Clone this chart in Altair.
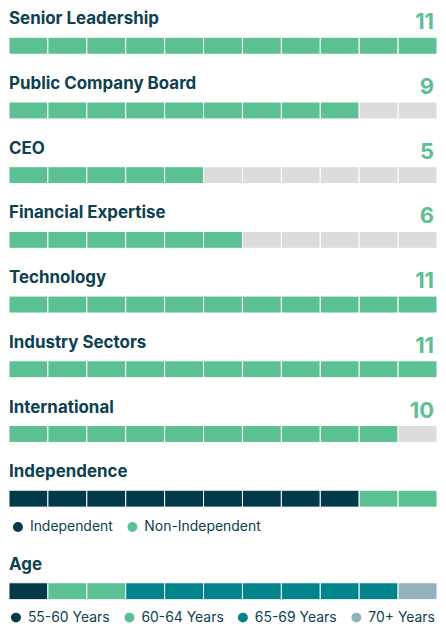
import altair as alt
import pandas as pd

board_size = 11

skills = [
    "Senior Leadership",
    "Public Company Board",
    "CEO",
    "Financial Expertise",
    "Technology",
    "Industry Sectors",
    "International",
]
skill_counts = [11, 9, 5, 6, 11, 11, 10]

independence_groups = ["Independent", "Non-Independent"]
independence_counts = [9, 2]

age_groups = ["55-60 Years", "60-64 Years", "65-69 Years", "70+ Years"]
age_counts = [1, 2, 7, 1]

GREEN = "#5bc092"
GREY = "#dcdcde"
NAVY = "#023a4a"
TEAL = "#00848b"
SLATE = "#93b3bc"
TEXT = "#0e4150"

W = 430
BAR_H = 17


def segments(groups, counts):
    rows = []
    i = 0
    for g, c in zip(groups, counts):
        for _ in range(c):
            rows.append({"start": i, "end": i + 1, "group": g})
            i += 1
    return pd.DataFrame(rows)


x_scale = alt.Scale(domain=[0, board_size], nice=False, zero=False)


def panel(label, groups, counts, colors, number=None, legend=None):
    bars = (
        alt.Chart(segments(groups, counts))
        .mark_rect(stroke="white", strokeWidth=1)
        .encode(
            x=alt.X("start:Q", scale=x_scale, axis=None),
            x2="end:Q",
            color=alt.Color(
                "group:N",
                scale=alt.Scale(domain=groups, range=colors),
                sort=groups,
                legend=legend,
            ),
        )
    )
    title = (
        alt.Chart(pd.DataFrame({"label": [label]}))
        .mark_text(align="left", baseline="alphabetic", font="Inter",
                   fontSize=17, fontWeight="bold", color=TEXT)
        .encode(x=alt.value(0), y=alt.value(-13), text="label:N")
    )
    layers = [bars, title]
    if number is not None:
        num = (
            alt.Chart(pd.DataFrame({"n": [board_size], "v": [number]}))
            .mark_text(align="right", baseline="alphabetic", dx=-3,
                       font="Inter", fontSize=22,
                       fontWeight="bold", color=GREEN)
            .encode(x=alt.X("n:Q", scale=x_scale, axis=None),
                    y=alt.value(-8), text="v:N")
        )
        layers.append(num)
    return alt.layer(*layers).properties(width=W, height=BAR_H)


def legend_for(pad=0):
    return alt.Legend(
        orient="bottom", direction="horizontal", title=None,
        symbolType="circle", symbolSize=100, symbolStrokeWidth=0,
        labelFont="Inter", labelFontSize=14, labelColor=TEXT,
        labelOffset=5, columnPadding=12, offset=11, padding=pad,
    )


rows = [
    panel(s, ["Yes", "No"], [c, board_size - c], [GREEN, GREY], number=c)
    for s, c in zip(skills, skill_counts)
]
rows.append(
    panel("Independence", independence_groups, independence_counts,
          [NAVY, GREEN], legend=legend_for(2))
)
rows.append(
    panel("Age", age_groups, age_counts, [NAVY, GREEN, TEAL, SLATE],
          legend=legend_for())
)

chart = (
    alt.vconcat(*rows, spacing=20)
    .resolve_scale(color="independent")
    .properties(padding={"top": 1, "left": 0, "right": 0, "bottom": 0})
    .configure_view(stroke=None)
)

chart.save("out.html", embed_options={"renderer": "svg", "actions": False})
